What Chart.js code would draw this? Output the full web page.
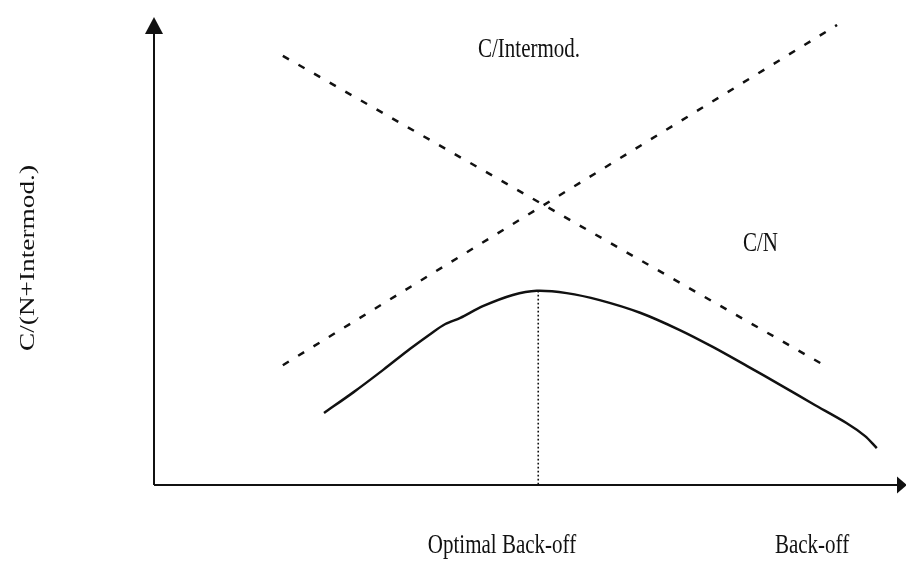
<!DOCTYPE html>
<html><head><meta charset="utf-8">
<style>html,body{margin:0;padding:0;background:#fff}#wrap{width:906px;height:565px;position:relative}</style>
<script src="https://cdn.jsdelivr.net/npm/chart.js@4"></script>
</head><body><div id="wrap"><canvas id="c"></canvas></div>
<script>
// Data (abstract units: back-off 0..100, ratio 0..100)
const curveX = [22.7, 26.7, 30.6, 34.2, 37.1, 38.9, 40.9, 43.9, 47.9, 51.1, 55.1, 59.5, 64.9, 70.2, 74.6, 79.2, 83.6, 88.0, 92.5, 94.9, 96.5];
const curveY = [15.4, 19.9, 24.6, 29.1, 32.5, 34.4, 35.7, 38.2, 40.6, 41.5, 41.0, 39.5, 36.8, 33.1, 29.5, 25.4, 21.4, 17.3, 13.2, 10.5, 7.9];
const cnX = [17.2, 89.9];
const cnY = [91.7, 25.2];
const imX = [17.2, 91.2];
const imY = [25.6, 98.3];
const optX = [51.3, 51.3];
const optY = [41.5, 0];
const yTitle = "C/(N+Intermod.)";
const textLabels = ["C/Intermod.", "C/N", "Optimal Back-off", "Back-off"];

const pts = (xs, ys) => xs.map((x, i) => ({x, y: ys[i]}));
const INK = '#111';
const SY = 1.3; // vertical stretch of the scanned lettering

const deco = {
  id: 'deco',
  beforeDraw(chart) {
    const c = chart.ctx;
    c.save(); c.fillStyle = '#fff'; c.fillRect(0, 0, chart.width, chart.height); c.restore();
  },
  afterDraw(chart) {
    const c = chart.ctx, a = chart.chartArea;
    const x0 = chart.scales.x.getPixelForValue(0);
    const y0 = chart.scales.y.getPixelForValue(0);
    c.save();
    c.strokeStyle = INK; c.fillStyle = INK; c.lineWidth = 2;
    // y axis
    c.beginPath(); c.moveTo(x0, y0); c.lineTo(x0, a.top + 14); c.stroke();
    c.beginPath(); c.moveTo(x0, a.top); c.lineTo(x0 - 9, a.top + 17); c.lineTo(x0 + 9, a.top + 17); c.closePath(); c.fill();
    // x axis
    c.beginPath(); c.moveTo(x0, y0); c.lineTo(a.right - 6, y0); c.stroke();
    c.beginPath(); c.moveTo(a.right + 4, y0); c.lineTo(a.right - 6, y0 - 8.5); c.lineTo(a.right - 6, y0 + 8.5); c.closePath(); c.fill();
    // texts
    c.font = '21px "Liberation Serif", "DejaVu Serif", serif';
    c.textBaseline = 'alphabetic';
    const put = (t, x, yb, align) => {
      c.save(); c.textAlign = align; c.scale(1, SY); c.fillText(t, x, yb / SY); c.restore();
    };
    put(textLabels[0], 478, 57, 'left');
    put(textLabels[1], 743, 251, 'left');
    put(textLabels[2], 502, 553, 'center');
    put(textLabels[3], 812, 553, 'center');
    // y title
    c.save();
    c.translate(28, 258); c.rotate(-Math.PI / 2); c.scale(SY, 1);
    c.textAlign = 'center'; c.textBaseline = 'middle';
    c.fillText(yTitle, 0, 0);
    c.restore();
    c.restore();
  }
};

new Chart(document.getElementById('c'), {
  type: 'scatter',
  data: {
    datasets: [
      { data: pts(curveX, curveY), showLine: true, borderColor: INK, borderWidth: 2.5, pointRadius: 0, tension: 0.3 },
      { data: pts(cnX, cnY), showLine: true, borderColor: INK, borderWidth: 2.5, borderDash: [7, 11], pointRadius: 0 },
      { data: pts(imX, imY), showLine: true, borderColor: INK, borderWidth: 2.5, borderDash: [7, 11], pointRadius: 0 },
      { data: pts(optX, optY), showLine: true, borderColor: INK, borderWidth: 1.6, borderDash: [1.6, 2.4], pointRadius: 0 }
    ]
  },
  options: {
    responsive: true, maintainAspectRatio: false, animation: false, devicePixelRatio: 1,
    layout: { padding: { left: 154, right: 3, top: 17, bottom: 80 } },
    plugins: { legend: { display: false }, tooltip: { enabled: false } },
    scales: {
      x: { type: 'linear', min: 0, max: 100, display: false },
      y: { type: 'linear', min: 0, max: 100, display: false }
    }
  },
  plugins: [deco]
});
</script></body></html>
